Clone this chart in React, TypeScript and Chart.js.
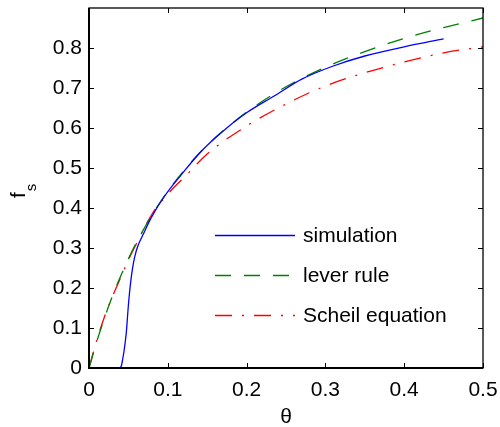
import React, { useEffect, useRef } from "react";
import { Chart, registerables } from "chart.js";

Chart.register(...registerables);

// simulation (blue solid)
const thetaSim = [0.039, 0.041, 0.043, 0.045, 0.0474, 0.0495, 0.0515, 0.0537, 0.056, 0.058, 0.062, 0.0685, 0.079, 0.096, 0.117, 0.1425, 0.17, 0.2, 0.235, 0.27, 0.31, 0.35, 0.4, 0.45];
const fsSim = [0, 0.005, 0.025, 0.05, 0.09, 0.145, 0.19, 0.228, 0.258, 0.278, 0.305, 0.333, 0.376, 0.43, 0.483, 0.542, 0.592, 0.638, 0.68, 0.722, 0.755, 0.78, 0.803, 0.823];

// lever rule (green dashed)
const thetaLever = [0, 0.01, 0.02, 0.03, 0.04, 0.05, 0.06, 0.07, 0.08, 0.1, 0.125, 0.15, 0.175, 0.2, 0.25, 0.3, 0.35, 0.4, 0.45, 0.5];
const fsLever = [0, 0.067, 0.127, 0.181, 0.229, 0.273, 0.313, 0.349, 0.383, 0.442, 0.504, 0.557, 0.601, 0.64, 0.703, 0.752, 0.791, 0.824, 0.851, 0.875];

// Scheil equation (red dash-dot)
const thetaScheil = [0, 0.01, 0.02, 0.03, 0.04, 0.05, 0.06, 0.08, 0.1, 0.125, 0.15, 0.2, 0.25, 0.3, 0.35, 0.4, 0.45, 0.5];
const fsScheil = [0, 0.07, 0.13, 0.18, 0.225, 0.27, 0.31, 0.385, 0.435, 0.485, 0.535, 0.605, 0.66, 0.705, 0.738, 0.765, 0.788, 0.803];

const seriesLabels = ["simulation", "lever rule", "Scheil equation"];
const xTickValues = [0, 0.1, 0.2, 0.3, 0.4, 0.5];
const yTickValues = [0, 0.1, 0.2, 0.3, 0.4, 0.5, 0.6, 0.7, 0.8];
const xTitle = "θ";

const FONT = "'Liberation Sans', Arial, Helvetica, sans-serif";
const FS = 21;

const toPts = (xs: number[], ys: number[]) => xs.map((x, i) => ({ x, y: ys[i] }));

const framePlugin = {
  id: "frameAndLegend",
  afterDatasetsDraw(chart: any) {
    const { ctx, chartArea, scales } = chart;
    const { left, right, top, bottom } = chartArea;
    ctx.save();
    ctx.strokeStyle = "#000";
    ctx.lineWidth = 1.3;
    ctx.strokeRect(left, top, right - left, bottom - top);
    ctx.lineWidth = 2;
    ctx.beginPath();
    ctx.moveTo(left, top);
    ctx.lineTo(left, bottom);
    ctx.lineTo(right, bottom);
    ctx.stroke();
    ctx.lineWidth = 1;
    const tl = 5;
    xTickValues.forEach((v) => {
      const px = Math.round(scales.x.getPixelForValue(v)) + 0.5;
      ctx.beginPath();
      ctx.moveTo(px, bottom);
      ctx.lineTo(px, bottom - tl);
      ctx.moveTo(px, top);
      ctx.lineTo(px, top + tl);
      ctx.stroke();
    });
    yTickValues.forEach((v) => {
      const py = Math.round(scales.y.getPixelForValue(v)) + 0.5;
      ctx.beginPath();
      ctx.moveTo(left, py);
      ctx.lineTo(left + tl, py);
      ctx.moveTo(right, py);
      ctx.lineTo(right - tl, py);
      ctx.stroke();
    });

    // legend
    const ds = chart.data.datasets;
    ctx.font = `${FS}px ${FONT}`;
    ctx.textBaseline = "middle";
    ctx.textAlign = "left";
    ds.forEach((d: any, i: number) => {
      const y = top + 227 + i * 40;
      const x0 = left + 126;
      const x1 = left + 206;
      ctx.strokeStyle = d.borderColor;
      ctx.lineWidth = d.borderWidth;
      ctx.setLineDash(d.borderDash || []);
      ctx.beginPath();
      ctx.moveTo(x0, y + 0.5);
      ctx.lineTo(x1, y + 0.5);
      ctx.stroke();
      ctx.setLineDash([]);
      ctx.fillStyle = "#000";
      ctx.fillText(d.label, left + 214, y + 1);
    });

    // x axis title
    ctx.fillStyle = "#000";
    ctx.textAlign = "center";
    ctx.textBaseline = "middle";
    ctx.fillText(xTitle, (left + right) / 2, bottom + 49);

    // y axis title f_s
    ctx.textAlign = "left";
    ctx.translate(25, 198);
    ctx.rotate(-Math.PI / 2);
    ctx.textBaseline = "alphabetic";
    ctx.font = `${FS}px ${FONT}`;
    ctx.fillText("f", 0, 0);
    const w = ctx.measureText("f").width;
    ctx.font = `15px ${FONT}`;
    ctx.fillText("s", w + 1, 11);
    ctx.restore();
  },
};

export default function App() {
  const ref = useRef<HTMLCanvasElement>(null);
  useEffect(() => {
    const canvas = ref.current!;
    const chart = new Chart(canvas, {
      type: "line",
      data: {
        datasets: [
          {
            label: seriesLabels[0],
            data: toPts(thetaSim, fsSim),
            borderColor: "#0000ff",
            borderWidth: 1.3,
            pointRadius: 0,
            cubicInterpolationMode: "monotone",
          },
          {
            label: seriesLabels[1],
            data: toPts(thetaLever, fsLever),
            borderColor: "#008000",
            borderWidth: 1.3,
            borderDash: [16, 13],
            pointRadius: 0,
            cubicInterpolationMode: "monotone",
          },
          {
            label: seriesLabels[2],
            data: toPts(thetaScheil, fsScheil),
            borderColor: "#ff0000",
            borderWidth: 1.3,
            borderDash: [17, 10, 2, 10],
            pointRadius: 0,
            cubicInterpolationMode: "monotone",
          },
        ] as any,
      },
      options: {
        responsive: false,
        animation: false,
        layout: { padding: { left: 0, top: 8, right: 17, bottom: 0 } },
        plugins: { legend: { display: false }, tooltip: { enabled: false } },
        scales: {
          x: {
            type: "linear",
            min: 0,
            max: 0.5,
            grid: { display: false, drawTicks: false },
            border: { display: false },
            ticks: {
              stepSize: 0.1,
              padding: 10,
              color: "#000",
              font: { family: FONT, size: FS },
              maxRotation: 0,
            },
            afterFit: (s: any) => {
              s.height = 59;
              s.paddingLeft = 0;
              s.paddingRight = 0;
            },
          },
          y: {
            type: "linear",
            min: 0,
            max: 0.9,
            grid: { display: false, drawTicks: false },
            border: { display: false },
            ticks: {
              stepSize: 0.1,
              padding: 7,
              color: "#000",
              font: { family: FONT, size: FS },
              callback: (v: any) => (Math.abs(v - 0.9) < 1e-6 ? "" : String(Math.round(v * 10) / 10)),
            },
            afterFit: (s: any) => {
              s.width = 89;
              s.paddingTop = 0;
              s.paddingBottom = 0;
            },
          },
        },
      } as any,
      plugins: [framePlugin],
    });
    return () => chart.destroy();
  }, []);
  return (
    <div style={{ position: "fixed", left: 0, top: 0, width: 500, height: 427, background: "#fff" }}>
      <canvas ref={ref} width={500} height={427} style={{ display: "block" }} />
    </div>
  );
}
